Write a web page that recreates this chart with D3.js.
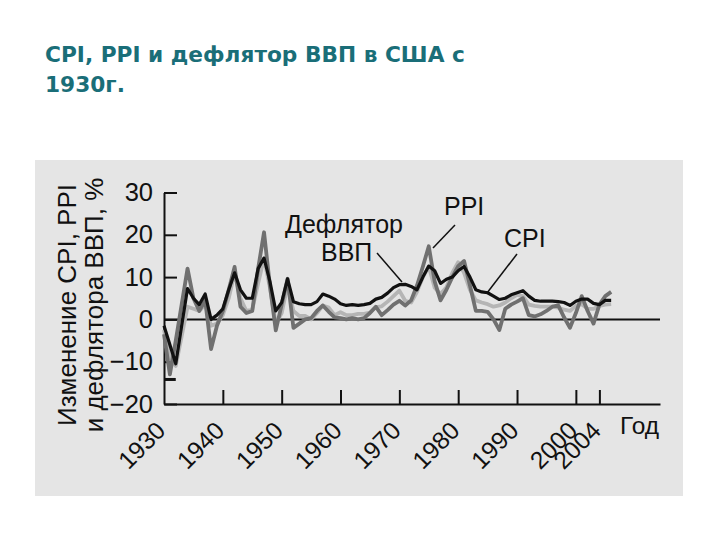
<!DOCTYPE html>
<html><head><meta charset="utf-8">
<script src="https://cdn.jsdelivr.net/npm/d3@7"></script>
<style>
body{margin:0;background:#fff;}
svg{display:block;}
</style></head>
<body>
<svg id="chart" width="720" height="540"></svg>
<script>
const years = d3.range(1930, 2007);
const deflator = [-1.5,-6,-10.5,-1.5,7.3,5,3.5,6,0,1,2.5,7,11,7,5,5,12,14.5,9,2,4,9.6,4.2,3.7,3.5,3.5,4.2,6,5.5,4.8,3.7,3.3,3.5,3.3,3.5,3.8,4.8,5.2,6.2,7.5,8.2,8.3,7.8,7,10,12.6,11.5,8.5,9.5,10,11.5,12.5,10,7,6.5,6.3,5.5,4.7,5,5.8,6.3,6.8,5.5,4.5,4.3,4.3,4.3,4.2,4,3.3,4.3,4.8,4.8,3.8,3.5,4.5,4.5];
const ppi = [-3.5,-13,-5,3.5,12,5,2,4.5,-7,-1.5,2,7,12.4,3,1.5,2,12,20.6,8,-2.6,3.5,9.6,-2,-1,0,0.3,2,3.3,1.8,0.5,0.3,0,0.3,0,0.3,1.5,3,1,2.2,3.5,4.4,3.3,4.5,8,12.5,17.3,9,4.5,7,10,12.6,13.8,8,2,2,1.8,0,-2.5,2.5,3.5,4.2,5,1,0.7,1.2,2,3,3.3,0.5,-2,1.5,5.5,2,-1,3.5,5.5,6.5];
const cpi = [-2.5,-9,-11,-4,3,2.5,2,3.5,-1.5,-1,1,5,11,5,2,2.3,8.5,14.5,7.5,-1,1.5,8,2,0.8,0.8,0,1.5,3.3,2.8,1,1.7,1,1,1.3,1.3,1.6,2.9,3.1,4.2,5.5,6.8,4.4,4,6.5,10,12.5,7.5,6,7.6,11,13.5,11,7,4.5,4,3.6,3,3.3,4,5,5.8,5.5,3.5,3.2,3,3,3,2.8,2.3,2,3.2,3.6,2.5,2.5,3.2,3.5,3.6];
const yTicks = [-20,-10,0,10,20,30];
const xTicks = [1930,1940,1950,1960,1970,1980,1990,2000,2004];
const titleLines = ["CPI, PPI и дефлятор ВВП в США с","1930г."];
const yTitle = ["Изменение CPI, PPI","и дефлятора ВВП, %"];

const svg = d3.select("#chart");
svg.append("rect").attr("x",35).attr("y",160).attr("width",648).attr("height",336).attr("fill","#e5e5e5");

svg.selectAll("text.title").data(titleLines).join("text")
  .attr("x",45).attr("y",(d,i)=>62+i*30)
  .attr("font-family","DejaVu Sans, Verdana, sans-serif").attr("font-weight","bold")
  .attr("font-size",21.7).attr("fill","#1a6e78").text(d=>d);

const x = d3.scaleLinear().domain([1930,2014.3]).range([164,660]);
const y = d3.scaleLinear().domain([-20,30]).range([404,192.5]);
const font = "Liberation Sans, Arial, Helvetica, sans-serif";

// y axis
const gy = svg.append("g").attr("transform",`translate(${x(1930)},0)`)
  .call(d3.axisLeft(y).tickValues(yTicks).tickSizeInner(-13).tickSizeOuter(0).tickPadding(11)
    .tickFormat(d=>d<0?"\u2212"+Math.abs(d):d));
gy.select(".domain").attr("stroke","#111").attr("stroke-width",2);
gy.selectAll(".tick line").attr("stroke","#111").attr("stroke-width",2);
gy.selectAll(".tick text").attr("font-family",font).attr("font-size",25.5).attr("fill","#111");

// x axis
const gx = svg.append("g").attr("transform",`translate(0,${y(-20)})`)
  .call(d3.axisBottom(x).tickValues(xTicks).tickSizeInner(-14).tickSizeOuter(0).tickFormat(""));
gx.select(".domain").attr("stroke","#111").attr("stroke-width",2);
gx.selectAll(".tick line").attr("stroke","#111").attr("stroke-width",2);
gx.selectAll(".tick").filter(d=>d===1930).select("line").remove();
svg.selectAll("text.xl").data(xTicks).join("text")
  .attr("transform",d=>`translate(${x(d)+3},${y(-20)+28}) rotate(-45)`)
  .attr("text-anchor","end").attr("font-family",font).attr("font-size",24.5).attr("fill","#111").text(d=>d);
svg.append("text").attr("x",620).attr("y",434).attr("font-family",font).attr("font-size",24.5).attr("fill","#111").text("Год");

// zero line
svg.append("line").attr("x1",x(1930)).attr("x2",x(2014.3)).attr("y1",y(0)).attr("y2",y(0)).attr("stroke","#111").attr("stroke-width",2);
// small dash mark near axis
svg.append("line").attr("x1",x(1930)).attr("x2",x(1932)).attr("y1",y(-14.2)).attr("y2",y(-14.2)).attr("stroke","#111").attr("stroke-width",3);

// y title
svg.selectAll("text.yt").data(yTitle).join("text")
  .attr("transform",(d,i)=>`translate(${76+i*27},305) rotate(-90)`)
  .attr("text-anchor","middle").attr("font-family",font).attr("font-size",26).attr("fill","#111").text(d=>d);

// lines
const line = arr => d3.line().x((d,i)=>x(years[i])).y(d=>y(d))(arr);
svg.append("path").attr("d",line(cpi)).attr("fill","none").attr("stroke","#b5b5b5").attr("stroke-width",3.8).attr("stroke-linejoin","round");
svg.append("path").attr("d",line(ppi)).attr("fill","none").attr("stroke","#707070").attr("stroke-width",3.8).attr("stroke-linejoin","round");
svg.append("path").attr("d",line(deflator)).attr("fill","none").attr("stroke","#111").attr("stroke-width",3.2).attr("stroke-linejoin","round");

// annotations
const ann = svg.append("g").attr("font-family",font).attr("font-size",25).attr("fill","#111");
ann.append("text").attr("x",285).attr("y",233).text("Дефлятор");
ann.append("text").attr("x",321).attr("y",261).text("ВВП");
ann.append("text").attr("x",444).attr("y",215).text("PPI");
ann.append("text").attr("x",504).attr("y",247).text("CPI");
const leaders = [[377,253,402,282],[455,225,433,248],[517,254,487,293]];
svg.selectAll("line.ld").data(leaders).join("line")
  .attr("x1",d=>d[0]).attr("y1",d=>d[1]).attr("x2",d=>d[2]).attr("y2",d=>d[3])
  .attr("stroke","#111").attr("stroke-width",1.5);
</script>
</body></html>
